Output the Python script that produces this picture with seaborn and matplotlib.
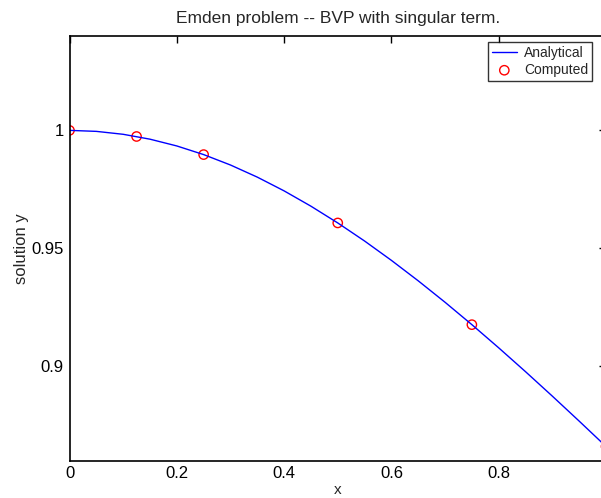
import numpy as np
import pandas as pd
import seaborn as sns
import matplotlib
matplotlib.use("Agg")
import matplotlib.pyplot as plt

# Dados (curva analítica e pontos calculados)
x_analytical = [0.0, 0.05, 0.1, 0.15, 0.2, 0.25, 0.3, 0.35, 0.4, 0.45, 0.5,
                0.55, 0.6, 0.65, 0.7, 0.75, 0.8, 0.85, 0.9, 0.95, 1.0]
y_analytical = [1.0, 0.99958, 0.99834, 0.99627, 0.99340, 0.98974, 0.98533,
                0.98019, 0.97436, 0.96787, 0.96077, 0.95311, 0.94491,
                0.93624, 0.92715, 0.91766, 0.90784, 0.89773, 0.88736,
                0.87678, 0.86603]
x_computed = [0.0, 0.125, 0.25, 0.5, 0.75, 1.0]
y_computed = [1.0, 0.99741, 0.98974, 0.96077, 0.91766, 0.86603]
x_ticks = [0, 0.2, 0.4, 0.6, 0.8, 1]
x_ticklabels = ["0", "0.2", "0.4", "0.6", "0.8", ""]  # o "1" fica fora da imagem
y_ticks = [0.9, 0.95, 1]

df_line = pd.DataFrame({"x": x_analytical, "y": y_analytical})
df_pts = pd.DataFrame({"x": x_computed, "y": y_computed})

sns.set_style("white")
plt.rcParams['font.family'] = ['Liberation Sans', 'DejaVu Sans']

fig = plt.figure(figsize=(6.01, 4.98), dpi=100)
ax = fig.add_axes([69.5 / 601, (498 - 460.7) / 498, (606 - 69.5) / 601, (460.7 - 36) / 498])

sns.lineplot(data=df_line, x="x", y="y", ax=ax, color="#0000ff", linewidth=1.0,
             label="Analytical")
sns.scatterplot(data=df_pts, x="x", y="y", ax=ax, marker="o", s=45,
                facecolor="none", edgecolor="#ff0000", linewidth=1.0,
                label="Computed", clip_on=True)

ax.set_xlim(0, 1)
ax.set_ylim(0.86, 1.04)
ax.set_xticks(x_ticks)
ax.set_xticklabels(x_ticklabels)
ax.set_yticks(y_ticks)
ax.set_yticklabels(["0.9", "0.95", "1"])
ax.tick_params(direction="in", length=5, width=1, top=True, right=True,
               labelsize=12, colors="black", pad=4)

for s in ax.spines.values():
    s.set_color("black")
    s.set_linewidth(1.2)

ax.set_title("Emden problem -- BVP with singular term.", fontsize=12.5, pad=9)
ax.set_xlabel("x", fontsize=11, labelpad=1)
ax.set_ylabel("solution y", fontsize=12, labelpad=2)

leg = ax.legend(loc="upper right", fontsize=10, frameon=True, fancybox=False,
                borderpad=0.3, handlelength=1.8, handletextpad=0.5,
                labelspacing=0.2, borderaxespad=0,
                bbox_to_anchor=(0.974, 0.986))
leg.get_frame().set_edgecolor("black")
leg.get_frame().set_linewidth(1.0)

fig.savefig("out.png", dpi=100)
